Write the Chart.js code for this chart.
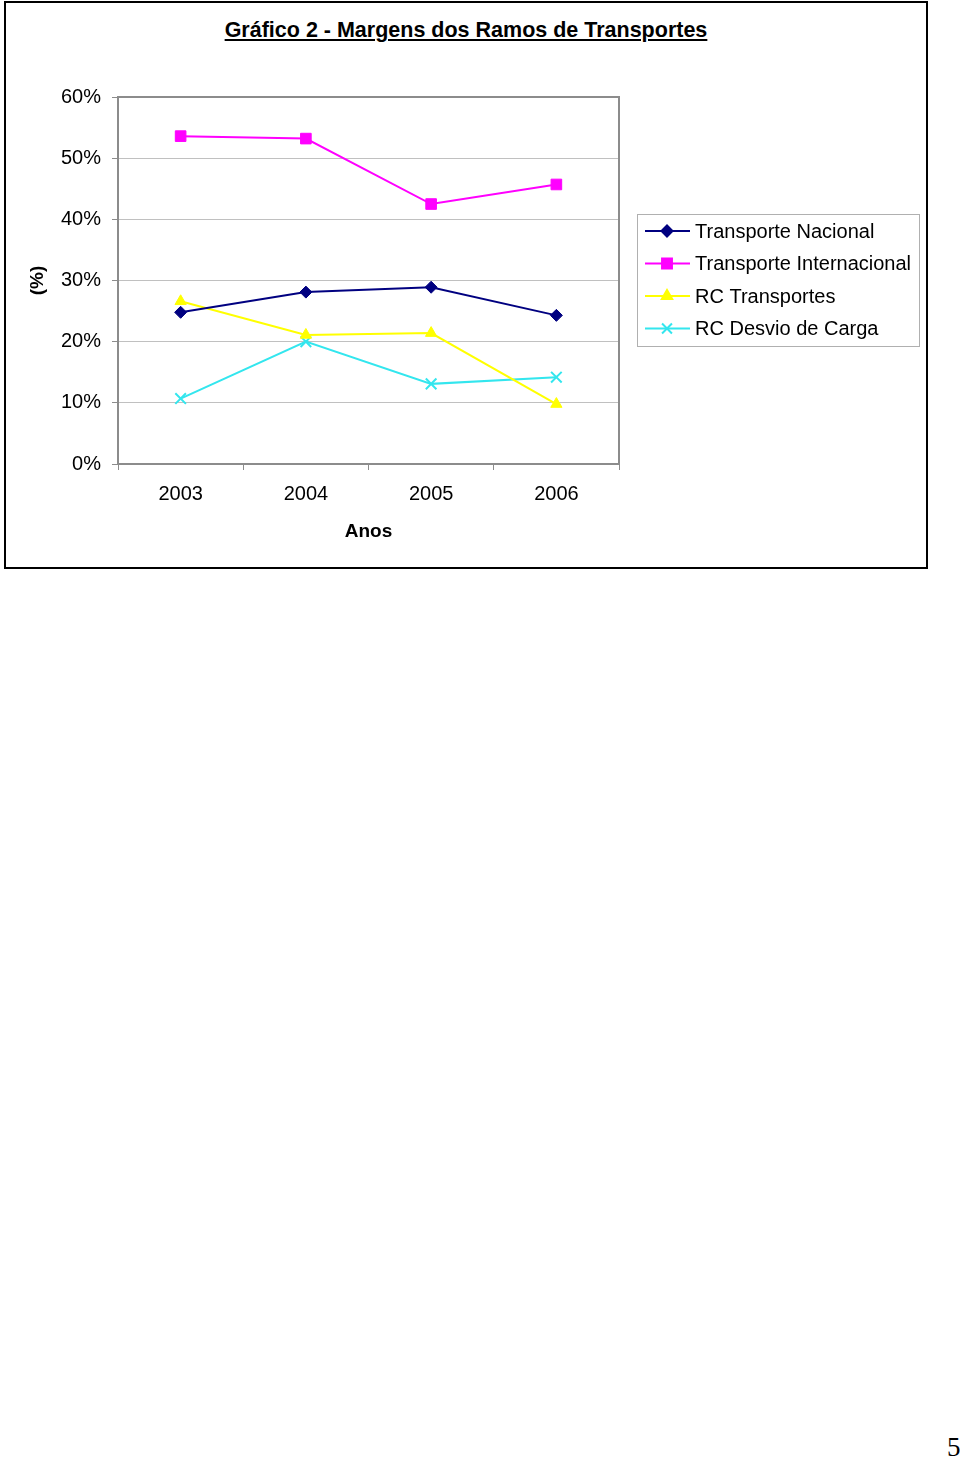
<!DOCTYPE html>
<html>
<head>
<meta charset="utf-8">
<script src="https://cdn.jsdelivr.net/npm/chart.js@4.4.1/dist/chart.umd.min.js"></script>
<style>
  body { margin: 0; background: #fff; width: 960px; height: 1459px; position: relative; font-family: "Liberation Sans", Arial, sans-serif; }
  #moldura { position: absolute; left: 4px; top: 1px; width: 920px; height: 564px; border: 2px solid #000; }
  #titulo { position: absolute; left: 4px; width: 924px; top: 18px; line-height: 24px; text-align: center; font-weight: bold; font-size: 21.5px; }
  #titulo span { text-decoration: underline; }
  #grafico { position: absolute; left: 0; top: 0; }
  #pagina { position: absolute; left: 947px; top: 1432px; font-family: "Liberation Serif", "DejaVu Serif", serif; font-size: 27px; }
</style>
</head>
<body>
<div id="moldura"></div>
<div id="titulo"><span>Gráfico 2 - Margens dos Ramos de Transportes</span></div>
<canvas id="grafico" width="960" height="580"></canvas>
<div id="pagina">5</div>
<script>
const anos = ['2003', '2004', '2005', '2006']
const transporteNacional = [24.8, 28.1, 28.9, 24.3]
const transporteInternacional = [53.6, 53.2, 42.5, 45.7]
const rcTransportes = [26.6, 21.1, 21.4, 9.8]
const rcDesvioCarga = [10.7, 20.0, 13.1, 14.2]
const escalaY = { min: 0, max: 60, passo: 10 }

const fonte = "'Liberation Sans', Arial, sans-serif"

function serie(nome, valores, cor, estilo, raio) {
  return {
    label: nome,
    data: valores,
    borderColor: cor,
    backgroundColor: cor,
    borderWidth: 2,
    pointStyle: estilo,
    pointRadius: raio,
    pointHoverRadius: raio,
    pointBorderWidth: estilo === 'crossRot' ? 2 : 1,
    tension: 0
  }
}

// moldura da area do grafico + legenda com linha e marcador
const legendaExcel = {
  id: 'legendaExcel',
  afterDraw(chart) {
    const ctx = chart.ctx
    const area = chart.chartArea
    ctx.save()
    ctx.strokeStyle = '#8c8c8c'
    ctx.lineWidth = 2
    ctx.strokeRect(area.left, area.top, area.right - area.left, area.bottom - area.top)

    ctx.strokeStyle = '#b0b0b0'
    ctx.lineWidth = 1
    ctx.strokeRect(637.5, 214.5, 282, 132)

    ctx.font = '20px ' + fonte
    ctx.textBaseline = 'middle'
    chart.data.datasets.forEach((ds, i) => {
      const y = 231 + i * 32.5
      ctx.strokeStyle = ds.borderColor
      ctx.fillStyle = ds.backgroundColor
      ctx.lineWidth = 2
      ctx.beginPath()
      ctx.moveTo(645, y)
      ctx.lineTo(690, y)
      ctx.stroke()
      Chart.helpers.drawPoint(ctx, {
        pointStyle: ds.pointStyle,
        radius: ds.pointRadius - 0.5,
        rotation: 0,
        borderWidth: ds.pointBorderWidth
      }, 667, y)
      ctx.fillStyle = '#000'
      ctx.fillText(ds.label, 695, y + 1)
    })
    ctx.restore()
  }
}

const grafico = new Chart(document.getElementById('grafico'), {
  type: 'line',
  data: {
    labels: anos,
    datasets: [
      serie('Transporte Nacional', transporteNacional, '#000080', 'rectRot', 6),
      serie('Transporte Internacional', transporteInternacional, '#ff00ff', 'rect', 7.5),
      serie('RC Transportes', rcTransportes, '#ffff00', 'triangle', 6.5),
      serie('RC Desvio de Carga', rcDesvioCarga, '#33e6ee', 'crossRot', 7.5)
    ]
  },
  options: {
    responsive: false,
    animation: false,
    layout: { padding: { left: 0, top: 97, right: 341, bottom: 36.6 } },
    plugins: {
      legend: { display: false },
      tooltip: { enabled: false }
    },
    scales: {
      x: {
        offset: true,
        afterFit: escala => { escala.height = 79.4 },
        grid: { drawOnChartArea: false, offset: true, color: '#8c8c8c', tickLength: 6, lineWidth: 1 },
        border: { display: true, color: '#8c8c8c', width: 2 },
        ticks: { color: '#000', font: { family: fonte, size: 20 }, padding: 12 },
        title: {
          display: true,
          text: 'Anos',
          color: '#000',
          font: { family: fonte, size: 19, weight: 'bold' },
          padding: { top: 0, bottom: 0 }
        }
      },
      y: {
        min: escalaY.min,
        max: escalaY.max,
        afterFit: escala => { escala.width = 118 },
        grid: { color: '#c0c0c0', tickColor: '#8c8c8c', tickLength: 6, lineWidth: 1 },
        border: { display: true, color: '#8c8c8c', width: 2 },
        ticks: {
          stepSize: escalaY.passo,
          color: '#000',
          font: { family: fonte, size: 20 },
          padding: 11,
          callback: v => v + '%'
        },
        title: {
          display: true,
          text: '(%)',
          color: '#000',
          font: { family: fonte, size: 19, weight: 'bold' },
          padding: { top: 26.6, bottom: 0 }
        }
      }
    }
  },
  plugins: [legendaExcel]
})
</script>
</body>
</html>
